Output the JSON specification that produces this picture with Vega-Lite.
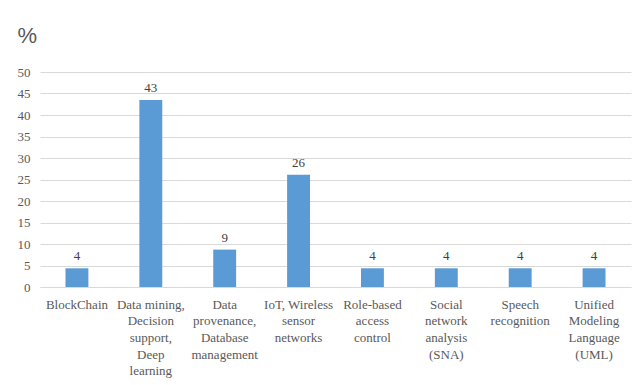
{
  "$schema": "https://vega.github.io/schema/vega-lite/v6.json",
  "width": 591,
  "height": 215,
  "autosize": {"type": "none"},
  "padding": {"left": 40, "top": 72, "right": 10, "bottom": 98},
  "background": "white",
  "config": {
    "view": {"stroke": null},
    "font": "Liberation Serif"
  },
  "data": {
    "values": [
      {"topic": "BlockChain", "pct": 4.35},
      {"topic": "Data mining,|Decision|support,|Deep|learning", "pct": 43.48},
      {"topic": "Data|provenance,|Database|management", "pct": 8.70},
      {"topic": "IoT, Wireless|sensor|networks", "pct": 26.09},
      {"topic": "Role-based|access|control", "pct": 4.35},
      {"topic": "Social|network|analysis|(SNA)", "pct": 4.35},
      {"topic": "Speech|recognition", "pct": 4.35},
      {"topic": "Unified|Modeling|Language|(UML)", "pct": 4.35}
    ]
  },
  "encoding": {
    "x": {
      "field": "topic",
      "type": "nominal",
      "sort": null,
      "scale": {"paddingInner": 0.69, "paddingOuter": 0.345},
      "axis": {
        "title": null,
        "labelExpr": "split(datum.label, '|')",
        "labelAngle": 0,
        "labelFont": "Liberation Serif",
        "labelFontSize": 13,
        "labelColor": "#595959",
        "labelLineHeight": 16.7,
        "labelPadding": 11,
        "labelLimit": 200,
        "ticks": false,
        "domainColor": "#d9d9d9",
        "domainWidth": 1
      }
    },
    "y": {
      "field": "pct",
      "type": "quantitative",
      "scale": {"domain": [0, 50], "nice": false},
      "axis": {
        "title": "%",
        "titleAngle": 0,
        "titleAlign": "left",
        "titleBaseline": "alphabetic",
        "titleX": -23,
        "titleY": -30,
        "titleFont": "Liberation Sans",
        "titleFontSize": 22,
        "titleFontWeight": "normal",
        "titleColor": "#595959",
        "values": [0, 5, 10, 15, 20, 25, 30, 35, 40, 45, 50],
        "labelFont": "Liberation Serif",
        "labelFontSize": 13,
        "labelColor": "#595959",
        "labelPadding": 10,
        "ticks": false,
        "domain": false,
        "gridColor": "#d9d9d9",
        "gridWidth": 1
      }
    }
  },
  "layer": [
    {"mark": {"type": "bar", "color": "#5b9bd5"}},
    {
      "mark": {
        "type": "text",
        "baseline": "alphabetic",
        "dy": -8,
        "font": "Liberation Serif",
        "fontSize": 13,
        "color": "#404040"
      },
      "encoding": {"text": {"field": "pct", "type": "quantitative", "format": ".0f"}}
    }
  ]
}
